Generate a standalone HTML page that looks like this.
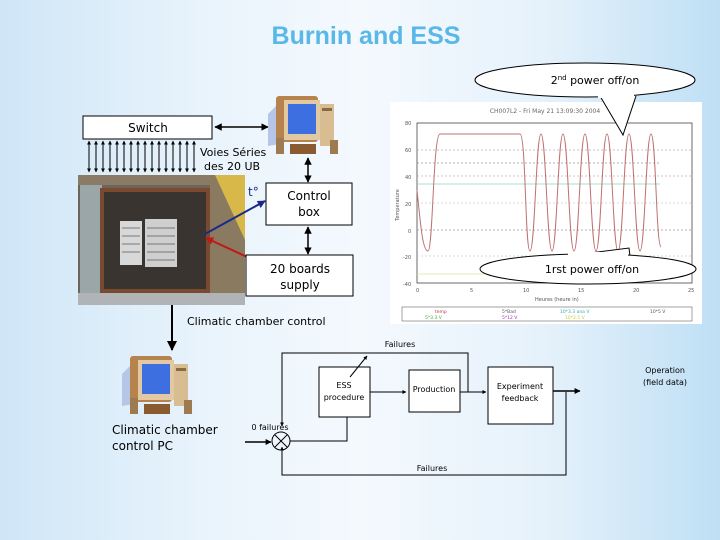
<!DOCTYPE html>
<html><head><meta charset="utf-8"><style>
html,body{margin:0;padding:0;width:720px;height:540px;overflow:hidden}
body{background:linear-gradient(90deg,#cfe6f7 0%,#eaf4fc 30%,#f4f9fe 50%,#e6f2fb 75%,#bfdff5 100%);font-family:"Liberation Sans",sans-serif}
svg{position:absolute;left:0;top:0}
</style></head><body>
<svg width="720" height="540" viewBox="0 0 720 540" font-family="DejaVu Sans, Liberation Sans, sans-serif">
<defs>
<marker id="a" viewBox="0 0 10 10" refX="9" refY="5" markerWidth="5" markerHeight="5" orient="auto-start-reverse"><path d="M0,0L10,5L0,10z" fill="#000"/></marker>
<marker id="s" viewBox="0 0 10 10" refX="9" refY="5" markerWidth="4" markerHeight="4" orient="auto-start-reverse"><path d="M0,0L10,5L0,10z" fill="#000"/></marker>
<marker id="b" viewBox="0 0 10 10" refX="9" refY="5" markerWidth="4" markerHeight="4" orient="auto"><path d="M0,0L10,5L0,10z" fill="#1a2a8a"/></marker>
<marker id="r" viewBox="0 0 10 10" refX="9" refY="5" markerWidth="4" markerHeight="4" orient="auto"><path d="M0,0L10,5L0,10z" fill="#c01818"/></marker>
<g id="pc">
<path d="M0,20 L12,8 L12,50 L0,52z" fill="#b6c6e6"/>
<rect x="8" y="2" width="42" height="46" fill="#b6834f" rx="3"/>
<rect x="16" y="6" width="36" height="40" fill="#e3c9a2"/>
<rect x="20" y="10" width="28" height="30" fill="#3d6fe0"/>
<rect x="52" y="10" width="14" height="42" fill="#d8bc92"/>
<rect x="54" y="14" width="10" height="3" fill="#8a6a44"/>
<rect x="8" y="44" width="8" height="16" fill="#9e7a50"/>
<rect x="62" y="46" width="8" height="14" fill="#9e7a50"/>
<rect x="22" y="50" width="26" height="10" fill="#8a5a30"/>
</g>
</defs>

<text x="366" y="44" text-anchor="middle" font-family="Liberation Sans, sans-serif" font-weight="bold" font-size="25" fill="#5ab8e6">Burnin and ESS</text>

<!-- graph -->
<rect x="390" y="102" width="312" height="222" fill="#fff"/>
<text x="545" y="113" font-size="6" fill="#666" text-anchor="middle">CH007L2 - Fri May 21 13:09:30 2004</text>
<rect x="417" y="123" width="275" height="160" fill="none" stroke="#444" stroke-width="0.8"/>
<g stroke-width="0.8" stroke-dasharray="2,2">
<line x1="417" y1="150" x2="692" y2="150" stroke="#c8a8a8"/>
<line x1="417" y1="163" x2="660" y2="163" stroke="#999"/>
<line x1="417" y1="176" x2="692" y2="176" stroke="#d0b0b0"/>
<line x1="417" y1="203" x2="692" y2="203" stroke="#ccc"/>
<line x1="417" y1="230" x2="692" y2="230" stroke="#999"/>
<line x1="417" y1="256" x2="692" y2="256" stroke="#ccc"/>
</g>
<line x1="417" y1="184" x2="660" y2="184" stroke="#8fd4b8" stroke-width="0.8"/>
<line x1="417" y1="274" x2="660" y2="274" stroke="#e8e090" stroke-width="0.8"/>
<path d="M417,190 C421,230 423,251 428,251 C433,251 433,134 440,134 L520,134 C526,134 525,251 530,251 C535,251 536,134 541,134 C546,134 547,251 552,251 C557,251 558,134 563,134 C568,134 569,251 574,251 C579,251 580,134 585,134 C590,134 591,251 596,251 C601,251 602,134 607,134 C612,134 613,251 618,251 C623,251 624,134 629,134 C634,134 635,251 640,251 C645,251 646,134 651,134 C656,134 656,245 661,247" fill="none" stroke="#c07070" stroke-width="1"/>
<g font-size="5" fill="#555">
<text x="405" y="125">80</text><text x="405" y="152">60</text><text x="405" y="179">40</text><text x="405" y="206">20</text><text x="408" y="233">0</text><text x="403" y="259">-20</text><text x="403" y="286">-40</text>
<text x="416" y="292">0</text><text x="470" y="292">5</text><text x="523" y="292">10</text><text x="578" y="292">15</text><text x="633" y="292">20</text><text x="688" y="292">25</text>
<text x="535" y="301">Heures (heure in)</text>
</g>
<text x="399" y="205" font-size="5" fill="#555" transform="rotate(-90 399 205)" text-anchor="middle">Temperature</text>
<rect x="402" y="307" width="290" height="14" fill="#fff" stroke="#666" stroke-width="0.6"/>
<g font-size="4.5"><text x="435" y="313" fill="#c04040">temp</text><text x="502" y="313" fill="#555">5*Bad</text><text x="560" y="313" fill="#3aa">10*3.3 ana V</text><text x="650" y="313" fill="#555">10*5 V</text>
<text x="425" y="319" fill="#3a3">5*3.3 V</text><text x="502" y="319" fill="#a3a">5*12 V</text><text x="565" y="319" fill="#cc3">10*2.5 V</text></g>

<!-- callouts -->
<path d="M600,96 L623,135 L636,96" fill="#fff" stroke="#000" stroke-width="1"/>
<ellipse cx="585" cy="80" rx="110" ry="17" fill="#fff" stroke="#000"/>
<rect x="598" y="92" width="36" height="6" fill="#fff"/>
<text x="595" y="84" font-size="11" text-anchor="middle">2<tspan font-size="7" dy="-4">nd</tspan><tspan dy="4"> power off/on</tspan></text>
<path d="M566,256 L629,248 L630,256" fill="#fff" stroke="#000"/>
<ellipse cx="588" cy="269" rx="108" ry="15" fill="#fff" stroke="#000"/>
<rect x="568" y="252" width="60" height="6" fill="#fff"/>
<text x="592" y="273" font-size="11" text-anchor="middle">1rst power off/on</text>

<!-- top part -->
<rect x="83" y="116" width="129" height="23" fill="#fff" stroke="#000"/>
<text x="148" y="132" font-size="12" text-anchor="middle">Switch</text>
<line x1="215" y1="127" x2="268" y2="127" stroke="#000" stroke-width="1.5" marker-start="url(#a)" marker-end="url(#a)"/>
<use href="#pc" x="268" y="94"/>
<g stroke="#000" stroke-width="1">
<line x1="89" y1="141" x2="89" y2="172" marker-start="url(#s)" marker-end="url(#s)"/>
<line x1="96" y1="141" x2="96" y2="172" marker-start="url(#s)" marker-end="url(#s)"/>
<line x1="103" y1="141" x2="103" y2="172" marker-start="url(#s)" marker-end="url(#s)"/>
<line x1="110" y1="141" x2="110" y2="172" marker-start="url(#s)" marker-end="url(#s)"/>
<line x1="117" y1="141" x2="117" y2="172" marker-start="url(#s)" marker-end="url(#s)"/>
<line x1="124" y1="141" x2="124" y2="172" marker-start="url(#s)" marker-end="url(#s)"/>
<line x1="131" y1="141" x2="131" y2="172" marker-start="url(#s)" marker-end="url(#s)"/>
<line x1="138" y1="141" x2="138" y2="172" marker-start="url(#s)" marker-end="url(#s)"/>
<line x1="145" y1="141" x2="145" y2="172" marker-start="url(#s)" marker-end="url(#s)"/>
<line x1="152" y1="141" x2="152" y2="172" marker-start="url(#s)" marker-end="url(#s)"/>
<line x1="159" y1="141" x2="159" y2="172" marker-start="url(#s)" marker-end="url(#s)"/>
<line x1="166" y1="141" x2="166" y2="172" marker-start="url(#s)" marker-end="url(#s)"/>
<line x1="173" y1="141" x2="173" y2="172" marker-start="url(#s)" marker-end="url(#s)"/>
<line x1="180" y1="141" x2="180" y2="172" marker-start="url(#s)" marker-end="url(#s)"/>
<line x1="187" y1="141" x2="187" y2="172" marker-start="url(#s)" marker-end="url(#s)"/>
<line x1="194" y1="141" x2="194" y2="172" marker-start="url(#s)" marker-end="url(#s)"/>
</g>
<text x="200" y="156" font-size="11">Voies Séries</text>
<text x="204" y="170" font-size="11">des 20 UB</text>

<!-- chamber photo -->
<rect x="78" y="175" width="167" height="130" fill="#6d655a"/>
<rect x="78" y="175" width="167" height="10" fill="#8a7a66"/>
<rect x="80" y="185" width="22" height="115" fill="#9aa6a8"/>
<rect x="100" y="188" width="110" height="105" fill="#7a4a30"/>
<rect x="104" y="192" width="102" height="97" fill="#3a3430"/>
<rect x="120" y="221" width="22" height="44" fill="#d8d8d8"/>
<rect x="145" y="219" width="32" height="48" fill="#cfcfcf"/>
<g stroke="#777" stroke-width="1"><line x1="122" y1="228" x2="140" y2="228"/><line x1="122" y1="236" x2="140" y2="236"/><line x1="122" y1="244" x2="140" y2="244"/><line x1="122" y1="252" x2="140" y2="252"/><line x1="147" y1="228" x2="175" y2="228"/><line x1="147" y1="236" x2="175" y2="236"/><line x1="147" y1="244" x2="175" y2="244"/><line x1="147" y1="252" x2="175" y2="252"/><line x1="147" y1="260" x2="175" y2="260"/></g>
<rect x="210" y="175" width="35" height="130" fill="#8a7a60"/>
<path d="M215,175 L245,175 L245,240 z" fill="#d9b84a"/>
<rect x="78" y="293" width="167" height="12" fill="#b0b4b6"/>
<line x1="205" y1="234" x2="265" y2="201" stroke="#1a2a8a" stroke-width="2" marker-end="url(#b)"/>
<line x1="258" y1="262" x2="206" y2="238" stroke="#c01818" stroke-width="2" marker-end="url(#r)"/>
<text x="248" y="196" font-size="12" fill="#1a2a8a">t°</text>

<rect x="266" y="183" width="86" height="42" fill="#fff" stroke="#000"/>
<text x="309" y="200" font-size="12" text-anchor="middle">Control</text>
<text x="309" y="216" font-size="12" text-anchor="middle">box</text>
<line x1="308" y1="158" x2="308" y2="182" stroke="#000" stroke-width="1.5" marker-start="url(#a)" marker-end="url(#a)"/>
<rect x="246" y="255" width="107" height="41" fill="#fff" stroke="#000"/>
<text x="300" y="273" font-size="12" text-anchor="middle">20 boards</text>
<text x="300" y="289" font-size="12" text-anchor="middle">supply</text>
<line x1="308" y1="227" x2="308" y2="254" stroke="#000" stroke-width="1.5" marker-start="url(#a)" marker-end="url(#a)"/>

<line x1="172" y1="305" x2="172" y2="350" stroke="#000" stroke-width="2" marker-end="url(#a)"/>
<text x="187" y="325" font-size="11">Climatic chamber control</text>
<use href="#pc" x="122" y="354"/>
<text x="112" y="434" font-size="12">Climatic chamber</text>
<text x="112" y="450" font-size="12">control PC</text>

<!-- block diagram -->
<rect x="319" y="367" width="51" height="50" fill="#fff" stroke="#000"/>
<rect x="409" y="370" width="51" height="42" fill="#fff" stroke="#000"/>
<rect x="488" y="367" width="65" height="57" fill="#fff" stroke="#000"/>
<g font-size="8" text-anchor="middle">
<text x="400" y="347">Failures</text>
<text x="344" y="388">ESS</text>
<text x="344" y="400">procedure</text>
<text x="434" y="392">Production</text>
<text x="520" y="389">Experiment</text>
<text x="520" y="401">feedback</text>
<text x="665" y="373">Operation</text>
<text x="665" y="385">(field data)</text>
<text x="270" y="430">0 failures</text>
<text x="432" y="471">Failures</text>
</g>
<g fill="none" stroke="#000" stroke-width="1">
<line x1="370" y1="392" x2="406" y2="392" marker-end="url(#s)"/>
<line x1="460" y1="392" x2="486" y2="392" marker-end="url(#s)"/>
<line x1="553" y1="391" x2="580" y2="391" stroke-width="1.5" marker-end="url(#s)"/>
<line x1="350" y1="377" x2="367" y2="356" marker-end="url(#s)"/>
<polyline points="468,392 468,353 282,353 282,426" marker-end="url(#s)"/>
<polyline points="566,392 566,475 282,475 282,447" marker-end="url(#s)"/>
<polyline points="347,417 347,441 290,441"/>
<line x1="245" y1="442" x2="271" y2="442" stroke-width="1.5" marker-end="url(#s)"/>
<circle cx="281" cy="441" r="9"/>
<line x1="275" y1="435" x2="287" y2="447"/><line x1="287" y1="435" x2="275" y2="447"/>
</g>
</svg>
</body></html>
